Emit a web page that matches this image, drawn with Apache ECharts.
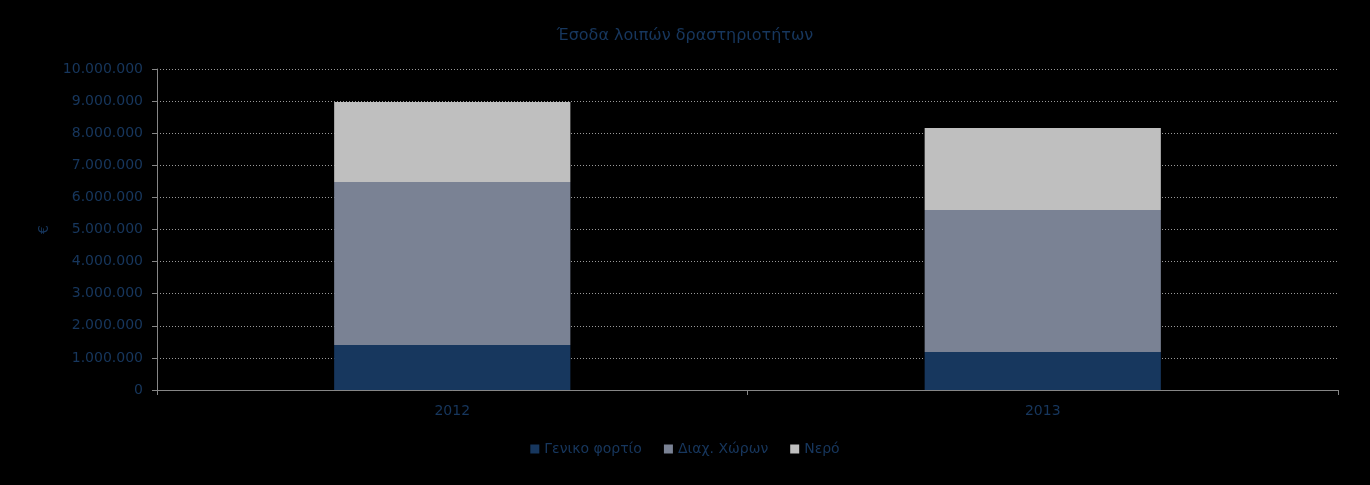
<!DOCTYPE html>
<html><head><meta charset="utf-8">
<script src="https://cdn.jsdelivr.net/npm/echarts@6/dist/echarts.min.js"></script>
<style>html,body{margin:0;padding:0;background:#000;}#c{width:1370px;height:485px;}</style>
</head><body><div id="c"></div>
<script>
const categories = ['2012', '2013'];
const seriesNames = ['Γενικο φορτίο', 'Διαχ. Χώρων', 'Νερό'];
const genikoFortio = [1400000, 1180000];
const diaxXoron = [5080000, 4430000];
const nero = [2490000, 2550000];
const colors = ['#17375E', '#7A8294', '#BFBFBF'];
const textColor = '#17375E';
const fontFamily = '"DejaVu Sans", sans-serif';

function fmt(v){ return String(v).replace(/\B(?=(\d{3})+(?!\d))/g, '.'); }

const chart = echarts.init(document.getElementById('c'));
const data = [genikoFortio, diaxXoron, nero];
chart.setOption({
  backgroundColor: '#000',
  animation: false,
  title: {
    text: 'Έσοδα λοιπών δραστηριοτήτων',
    left: 'center', top: 23,
    textStyle: { color: textColor, fontSize: 16, fontWeight: 'normal', fontFamily }
  },
  legend: {
    bottom: 24, left: 'center',
    itemWidth: 9, itemHeight: 9, itemGap: 22,
    icon: 'rect',
    textStyle: { color: textColor, fontSize: 14, fontFamily },
    data: seriesNames
  },
  grid: { left: 157, right: 32, top: 69, bottom: 95, containLabel: false },
  xAxis: {
    type: 'category', data: categories,
    axisLine: { lineStyle: { color: '#868686', width: 1 } },
    axisTick: { show: true, length: 5, lineStyle: { color: '#868686' } },
    axisLabel: { color: textColor, fontSize: 14, fontFamily, margin: 14 }
  },
  yAxis: {
    type: 'value', min: 0, max: 10000000, interval: 1000000,
    name: '€', nameLocation: 'middle', nameRotate: 90, nameGap: 106,
    nameTextStyle: { color: textColor, fontSize: 14, fontFamily },
    axisLine: { show: true, lineStyle: { color: '#868686' } },
    axisTick: { show: true, length: 5, lineStyle: { color: '#868686' } },
    axisLabel: { color: textColor, fontSize: 14, fontFamily, margin: 14, formatter: fmt },
    splitLine: { show: true, lineStyle: { color: '#9a9a9a', type: [1, 2], width: 1 } }
  },
  series: seriesNames.map((n, i) => ({
    name: n, type: 'bar', stack: 'total', data: data[i],
    barWidth: '40%',
    itemStyle: { color: colors[i] }
  }))
});
</script></body></html>
